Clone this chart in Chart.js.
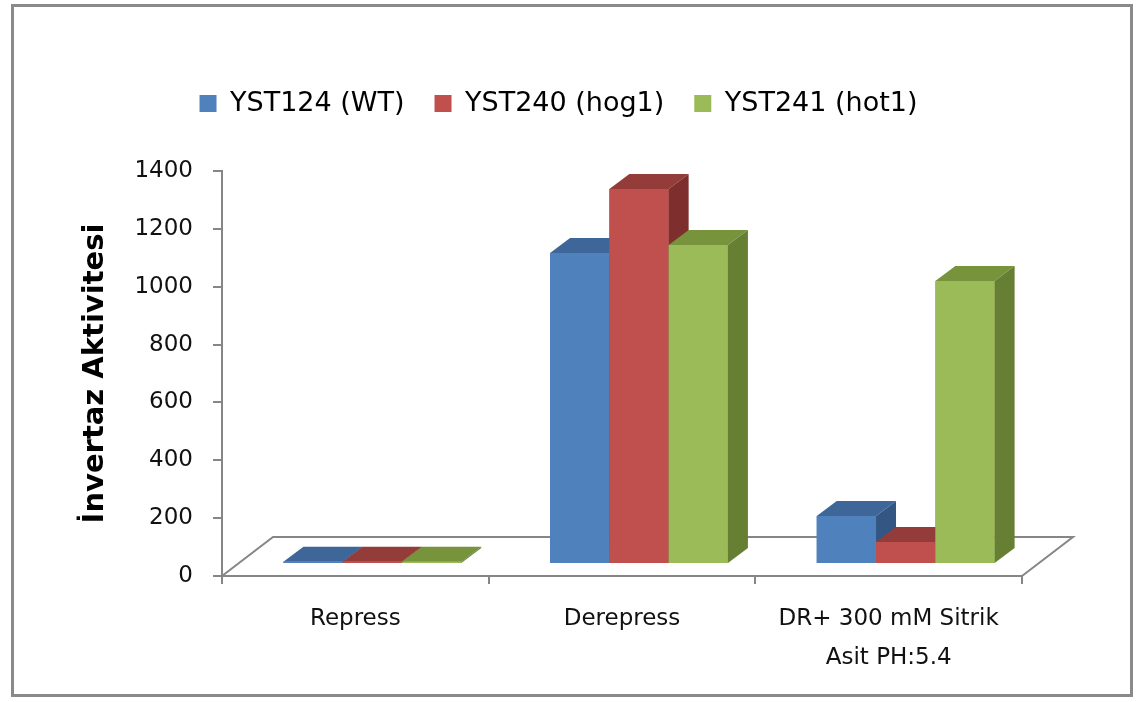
<!DOCTYPE html>
<html>
<head>
<meta charset="utf-8">
<script src="https://cdn.jsdelivr.net/npm/chart.js@4.4.0/dist/chart.umd.min.js"></script>
<style>
  body { margin: 0; background: #fff; }
  canvas { display: block; }
</style>
</head>
<body>
<canvas id="invertazChart" width="1138" height="702"></canvas>
<script>
// Values
const categories = ['Repress', 'Derepress', ['DR+ 300 mM Sitrik', 'Asit PH:5.4']];
const seriesNames = ['YST124 (WT)', 'YST240 (hog1)', 'YST241 (hot1)'];
const wtValues = [8, 1075, 166];
const hog1Values = [8, 1296, 76];
const hot1Values = [8, 1103, 978];
const yTicks = [0, 200, 400, 600, 800, 1000, 1200, 1400];

// Face colours: front, top, side
const frontColors = ['#4f81bd', '#c0504d', '#9bbb59'];
const topColors = ['#3e6698', '#943c3a', '#77933c'];
const sideColors = ['#335683', '#7e2f2d', '#667f33'];
const axisGray = '#868686';

// 3D offsets (px)
const depthX = 20, depthY = -15;   // bar depth
const shiftX = 17, shiftY = -12;   // bars sit back from the front axis
const floorX = 51, floorY = -39;   // floor depth

Chart.defaults.font.family = "'DejaVu Sans', sans-serif";
Chart.defaults.color = '#111';

const bars3d = {
    id: 'bars3d',
    beforeDatasetsDraw(chart) {
        const { ctx, chartArea: a } = chart;
        // floor outline (front edge is the x axis)
        ctx.save();
        ctx.strokeStyle = axisGray;
        ctx.lineWidth = 2;
        ctx.beginPath();
        ctx.moveTo(a.left, a.bottom);
        ctx.lineTo(a.left + floorX, a.bottom + floorY);
        ctx.lineTo(a.right + floorX, a.bottom + floorY);
        ctx.lineTo(a.right, a.bottom);
        ctx.stroke();
        ctx.restore();
        ctx.save();
        ctx.translate(shiftX, shiftY);
    },
    afterDatasetsDraw(chart) {
        const ctx = chart.ctx;
        // redraw left to right so later bars hide the sides of earlier ones
        for (let i = 0; i < chart.data.datasets.length; i++) {
            const meta = chart.getDatasetMeta(i);
            meta.data.forEach(bar => {
                const { x, y, base, width } = bar.getProps(['x', 'y', 'base', 'width'], true);
                const l = x - width / 2, r = x + width / 2;
                bar.draw(ctx);
                ctx.fillStyle = topColors[i];
                ctx.beginPath();
                ctx.moveTo(l, y);
                ctx.lineTo(l + depthX, y + depthY);
                ctx.lineTo(r + depthX, y + depthY);
                ctx.lineTo(r, y);
                ctx.closePath();
                ctx.fill();
                ctx.fillStyle = sideColors[i];
                ctx.beginPath();
                ctx.moveTo(r, y);
                ctx.lineTo(r + depthX, y + depthY);
                ctx.lineTo(r + depthX, base + depthY);
                ctx.lineTo(r, base);
                ctx.closePath();
                ctx.fill();
            });
        }
        ctx.restore();
    },
    afterDraw(chart) {
        const ctx = chart.ctx;
        ctx.save();
        ctx.strokeStyle = '#8a8a8a';
        ctx.lineWidth = 3;
        ctx.strokeRect(12.5, 5.5, 1119, 690);
        ctx.restore();
    }
};

const seriesValues = [wtValues, hog1Values, hot1Values];

const ctx = document.getElementById('invertazChart').getContext('2d');
const invertazChart = new Chart(ctx, {
    type: 'bar',
    data: {
        labels: categories,
        datasets: seriesNames.map((name, i) => ({
            label: name,
            data: seriesValues[i],
            backgroundColor: frontColors[i],
            borderWidth: 0,
            clip: false,
            categoryPercentage: 0.667,
            barPercentage: 1.0
        }))
    },
    options: {
        responsive: false,
        animation: false,
        devicePixelRatio: 1,
        layout: { padding: { top: 60, left: 95, right: 116, bottom: 0 } },
        plugins: {
            legend: {
                position: 'top',
                labels: {
                    boxWidth: 17,
                    boxHeight: 17,
                    padding: 30,
                    color: '#000',
                    font: { size: 27 }
                }
            },
            // empty title used as spacing between legend and plot
            title: { display: true, text: '', weight: 500, padding: { top: 29, bottom: 0 }, font: { size: 15, lineHeight: 1 } },
            tooltip: { enabled: false }
        },
        scales: {
            x: {
                grid: { display: true, drawOnChartArea: false, tickLength: 8, color: axisGray, lineWidth: 2 },
                border: { display: true, color: axisGray, width: 2 },
                ticks: { color: '#111', padding: 15, font: { size: 23, lineHeight: 1.7 } },
                afterFit(scale) { scale.height = 126; }
            },
            y: {
                min: 0,
                max: 1400,
                afterBuildTicks(scale) { scale.ticks = yTicks.map(v => ({ value: v })); },
                grid: { display: true, drawOnChartArea: false, tickLength: 9, color: axisGray, lineWidth: 2 },
                border: { display: true, color: axisGray, width: 2 },
                ticks: { color: '#111', padding: 20, font: { size: 23 }, callback: v => String(v) },
                title: {
                    display: true,
                    text: 'İnvertaz Aktivitesi',
                    color: '#000',
                    padding: { top: -17, bottom: 0 },
                    font: { size: 29, weight: 'bold' }
                },
                afterFit(scale) { scale.width = 127; }
            }
        }
    },
    plugins: [bars3d]
});
</script>
</body>
</html>
